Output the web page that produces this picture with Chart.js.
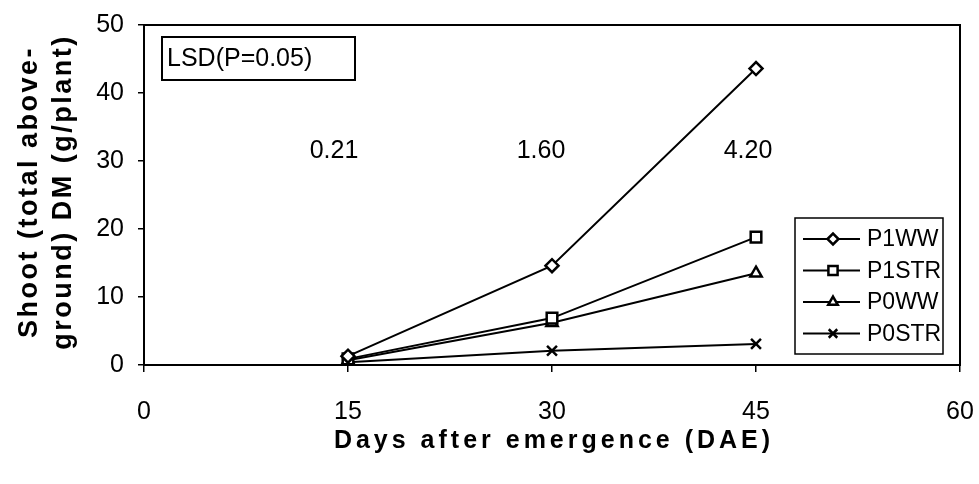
<!DOCTYPE html>
<html>
<head>
<meta charset="utf-8">
<script src="https://cdn.jsdelivr.net/npm/chart.js@4.4.1/dist/chart.umd.min.js"></script>
<style>
  html, body { margin: 0; padding: 0; background: #fff; }
  #wrap { width: 979px; height: 484px; }
</style>
</head>
<body>
<div id="wrap"><canvas id="dmChart"></canvas></div>
<script>
// shoot dry matter (g/plant) by days after emergence
const days = [15, 30, 45];
const p1ww = [1.3, 14.6, 43.6];
const p1str = [0.9, 6.9, 18.8];
const p0ww = [0.7, 6.2, 13.5];
const p0str = [0.4, 2.1, 3.1];
const seriesNames = ['P1WW', 'P1STR', 'P0WW', 'P0STR'];
const xTicks = [0, 15, 30, 45, 60];
const yTicks = [0, 10, 20, 30, 40, 50];
const lsdTitle = 'LSD(P=0.05)';
const lsdValues = ['0.21', '1.60', '4.20'];
const lsdLevel = 31.5;

const FONT = "'Liberation Sans', Arial, sans-serif";
const markers = [
    { pointStyle: 'rectRot', radius: 6.5 },
    { pointStyle: 'rect', radius: 7.5 },
    { pointStyle: 'triangle', radius: 6.5 },
    { pointStyle: 'crossRot', radius: 7 }
];

const series = [p1ww, p1str, p0ww, p0str];
const datasets = series.map((vals, i) => ({
    label: seriesNames[i],
    data: vals.map((v, j) => ({ x: days[j], y: v })),
    showLine: true,
    borderColor: '#000',
    borderWidth: 2,
    backgroundColor: '#fff',
    pointStyle: markers[i].pointStyle,
    pointRadius: markers[i].radius,
    pointBorderWidth: 2.5,
    pointBorderColor: '#000',
    pointBackgroundColor: '#fff',
    tension: 0
}));

// frame, LSD box, legend and axis titles
const decorations = {
    id: 'decorations',
    beforeDatasetsDraw(chart) {
        const { ctx, chartArea: a } = chart;
        ctx.save();
        ctx.strokeStyle = '#000';
        ctx.lineWidth = 2;
        ctx.strokeRect(a.left, a.top, a.right - a.left, a.bottom - a.top);
        ctx.restore();
    },
    afterDraw(chart) {
        const { ctx, chartArea: a, scales: { x, y } } = chart;
        ctx.save();
        ctx.fillStyle = '#000';
        ctx.strokeStyle = '#000';

        // LSD box
        ctx.lineWidth = 2;
        ctx.strokeRect(a.left + 18, a.top + 12, 193, 43);
        ctx.font = '25px ' + FONT;
        ctx.textAlign = 'left';
        ctx.textBaseline = 'middle';
        ctx.fillText(lsdTitle, a.left + 23, a.top + 34);

        // LSD values per sampling date
        ctx.textAlign = 'center';
        lsdValues.forEach((t, i) => {
            ctx.fillText(t, x.getPixelForValue(days[i]) - 14 + i * 3, y.getPixelForValue(lsdLevel));
        });

        // legend
        const lx = a.right - 165, ly = a.top + 193;
        ctx.fillStyle = '#fff';
        ctx.fillRect(lx, ly, 148, 136);
        ctx.lineWidth = 1.5;
        ctx.strokeRect(lx, ly, 148, 136);
        ctx.font = '23px ' + FONT;
        ctx.textAlign = 'left';
        seriesNames.forEach((name, i) => {
            const ry = ly + 21 + i * 31.5;
            ctx.strokeStyle = '#000';
            ctx.lineWidth = 2;
            ctx.beginPath();
            ctx.moveTo(lx + 8, ry);
            ctx.lineTo(lx + 65, ry);
            ctx.stroke();
            ctx.fillStyle = '#fff';
            ctx.lineWidth = 2.5;
            Chart.helpers.drawPoint(ctx, {
                pointStyle: markers[i].pointStyle,
                radius: markers[i].radius - 1,
                rotation: 0,
                borderWidth: 2.5
            }, lx + 38, ry);
            ctx.fillStyle = '#000';
            ctx.fillText(name, lx + 72, ry + 1);
        });

        // axis titles
        ctx.fillStyle = '#000';
        ctx.textAlign = 'center';
        ctx.textBaseline = 'middle';
        ctx.font = 'bold 25px ' + FONT;
        ctx.letterSpacing = '4px';
        ctx.fillText('Days after emergence (DAE)', (a.left + a.right) / 2 + 2, 441);

        ctx.font = 'bold 27px ' + FONT;
        ctx.letterSpacing = '2.5px';
        const cy = (a.top + a.bottom) / 2;
        ctx.translate(30, cy - 3);
        ctx.rotate(-Math.PI / 2);
        ctx.fillText('Shoot (total above-', 0, 0);
        ctx.fillText('ground) DM (g/plant)', 0, 34);
        ctx.restore();
    }
};

// keep tick-label overflow from pushing the plot area around
function noOverflow(s) {
    s.paddingTop = 0;
    s.paddingBottom = 0;
    s.paddingLeft = 0;
    s.paddingRight = 0;
}

const ctx = document.getElementById('dmChart').getContext('2d');
const dmChart = new Chart(ctx, {
    type: 'scatter',
    data: { datasets: datasets },
    options: {
        responsive: true,
        maintainAspectRatio: false,
        animation: false,
        layout: { padding: { top: 25, right: 19, left: 0, bottom: 0 } },
        plugins: {
            legend: { display: false },
            tooltip: { enabled: false }
        },
        scales: {
            x: {
                type: 'linear',
                min: 0,
                max: 60,
                afterBuildTicks: (s) => { s.ticks = xTicks.map(v => ({ value: v })); },
                afterFit: (s) => { s.height = 119; noOverflow(s); },
                border: { display: true, color: '#000', width: 2 },
                grid: { display: true, drawOnChartArea: false, color: '#000', lineWidth: 1.5, tickLength: 7 },
                ticks: { color: '#000', font: { family: FONT, size: 25 }, padding: 25, maxRotation: 0 }
            },
            y: {
                type: 'linear',
                min: 0,
                max: 50,
                afterBuildTicks: (s) => { s.ticks = yTicks.map(v => ({ value: v })); },
                afterFit: (s) => { s.width = 144; noOverflow(s); },
                border: { display: true, color: '#000', width: 2 },
                grid: { display: true, drawOnChartArea: false, color: '#000', lineWidth: 1.5, tickLength: 6 },
                ticks: { color: '#000', font: { family: FONT, size: 25 }, padding: 14 }
            }
        }
    },
    plugins: [decorations]
});
</script>
</body>
</html>
